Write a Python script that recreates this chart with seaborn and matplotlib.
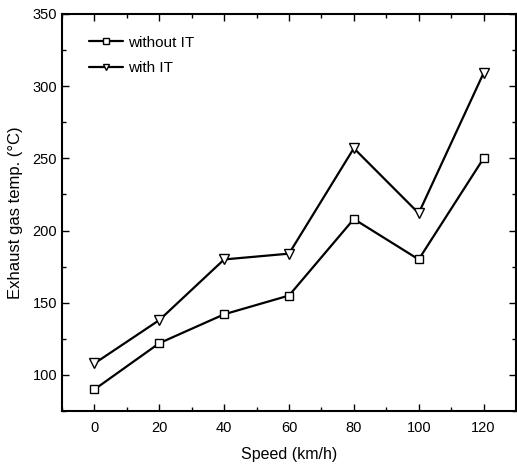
import matplotlib
matplotlib.use("Agg")
import matplotlib.pyplot as plt
import seaborn as sns
import pandas as pd
from matplotlib.ticker import MultipleLocator

speed = [0, 20, 40, 60, 80, 100, 120]
without_it = [90, 122, 142, 155, 208, 180, 250]
with_it = [108, 138, 180, 184, 257, 212, 309]

sns.set_theme(style="ticks", rc={"text.color": "black", "axes.labelcolor": "black",
                                 "xtick.color": "black", "ytick.color": "black"})
plt.rcParams['font.family'] = ['Liberation Sans', 'DejaVu Sans']

df = pd.DataFrame({
    "speed": speed * 2,
    "temp": without_it + with_it,
    "series": ["without IT"] * len(speed) + ["with IT"] * len(speed),
})

fig = plt.figure(figsize=(5.17, 4.65), dpi=100)
ax = fig.add_axes([0.12, 0.116, 0.878, 0.854])

sns.lineplot(data=df, x="speed", y="temp", hue="series", style="series",
             markers={"without IT": "s", "with IT": "v"}, dashes=False,
             palette={"without IT": "black", "with IT": "black"},
             linewidth=1.6, markersize=5.5, markerfacecolor="white",
             markeredgecolor="black", markeredgewidth=1.0, ax=ax)
for ln in ax.lines:
    if ln.get_marker() == "v":
        ln.set_markersize(7)

ax.set_xlim(-10, 130)
ax.set_ylim(75, 350)
ax.xaxis.set_major_locator(MultipleLocator(20))
ax.xaxis.set_minor_locator(MultipleLocator(10))
ax.yaxis.set_major_locator(MultipleLocator(50))
ax.yaxis.set_minor_locator(MultipleLocator(25))
ax.tick_params(which="both", direction="in", top=True, right=True, labelsize=10.5)
ax.tick_params(axis="x", which="major", pad=7)
ax.tick_params(which="major", length=5, width=1)
ax.tick_params(which="minor", length=3, width=1)
for s in ax.spines.values():
    s.set_linewidth(1.5)
    s.set_color("black")
ax.set_xlabel("Speed (km/h)", fontsize=11.5, labelpad=9)
ax.set_ylabel("Exhaust gas temp. (\u00b0C)", fontsize=12, labelpad=7)

leg = ax.legend(loc="upper left", frameon=False, fontsize=11,
                handlelength=2.2, handletextpad=0.3,
                bbox_to_anchor=(0.03, 0.98), labelspacing=0.75)
for h in leg.legend_handles:
    h.set_markersize(4.5)

fig.savefig("out.png", dpi=100)
